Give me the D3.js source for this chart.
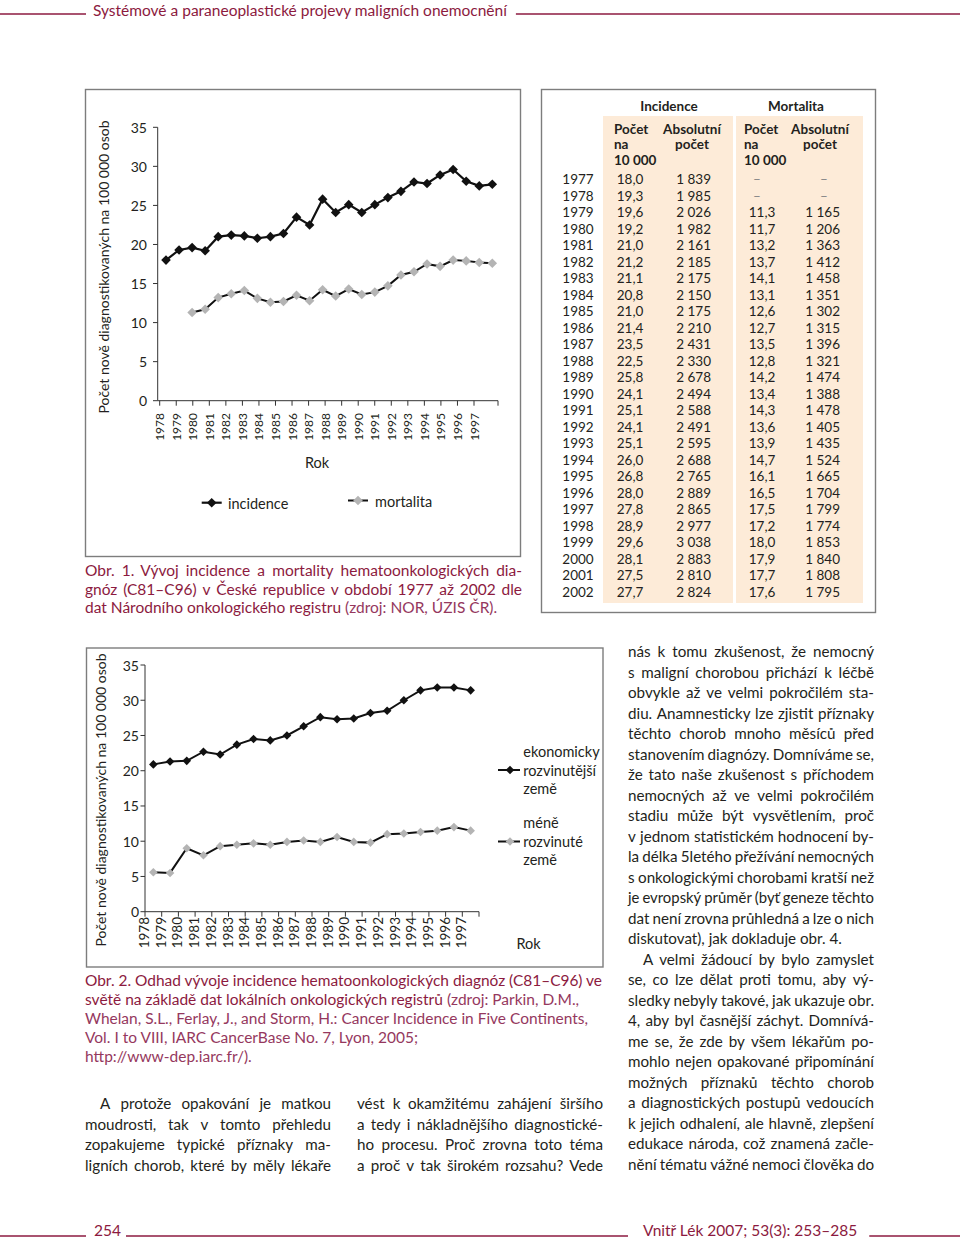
<!DOCTYPE html>
<html><head><meta charset="utf-8">
<script src="https://cdn.jsdelivr.net/npm/d3@7"></script>
<style>
body{margin:0;background:#fff}
svg{display:block}
text{font-family:Lato,"Open Sans",sans-serif}
</style>
</head><body>
<svg id="page" width="960" height="1241"></svg>
<script>
// ---------------- DATA ----------------
const tableYears = [1977,1978,1979,1980,1981,1982,1983,1984,1985,1986,1987,1988,1989,1990,1991,1992,1993,1994,1995,1996,1997,1998,1999,2000,2001,2002];
const incidenceRate = [18.0,19.3,19.6,19.2,21.0,21.2,21.1,20.8,21.0,21.4,23.5,22.5,25.8,24.1,25.1,24.1,25.1,26.0,26.8,28.0,27.8,28.9,29.6,28.1,27.5,27.7];
const incidenceAbs = [1839,1985,2026,1982,2161,2185,2175,2150,2175,2210,2431,2330,2678,2494,2588,2491,2595,2688,2765,2889,2865,2977,3038,2883,2810,2824];
const mortalityRate = [null,null,11.3,11.7,13.2,13.7,14.1,13.1,12.6,12.7,13.5,12.8,14.2,13.4,14.3,13.6,13.9,14.7,16.1,16.5,17.5,17.2,18.0,17.9,17.7,17.6];
const mortalityAbs = [null,null,1165,1206,1363,1412,1458,1351,1302,1315,1396,1321,1474,1388,1478,1405,1435,1524,1665,1704,1799,1774,1853,1840,1808,1795];
const chart1TickLabels = ["1978","1979","1980","1981","1982","1983","1984","1985","1986","1987","1988","1989","1990","1991","1992","1993","1994","1995","1996","1997"];
const yTicks = [0,5,10,15,20,25,30,35];

const chart2Years = ["1978","1979","1980","1981","1982","1983","1984","1985","1986","1987","1988","1989","1990","1991","1992","1993","1994","1995","1996","1997"];
const developed = [20.9,21.3,21.4,22.7,22.3,23.7,24.5,24.3,25.0,26.3,27.6,27.3,27.4,28.2,28.5,30.0,31.4,31.8,31.8,31.4];
const lessDeveloped = [5.6,5.5,9.0,8.0,9.3,9.5,9.7,9.5,9.9,10.1,9.9,10.6,9.9,9.8,11.0,11.1,11.3,11.5,12.0,11.5];

// ---------------- STYLE ----------------
const MAROON = '#8c1a40', MAROON2 = '#95385e', TXT = '#231f20', BOX = '#7d7d7d', GRAYMK = '#b4b4b4';
const svg = d3.select('#page');

function txt(g, x, y, str, o = {}) {
  return g.append('text').attr('x', x).attr('y', y)
    .attr('font-size', o.size || 14).attr('fill', o.fill || TXT)
    .attr('text-anchor', o.anchor || 'start')
    .attr('font-weight', o.weight || 400)
    .attr('dominant-baseline', o.base || 'auto')
    .text(str);
}
function justifyLine(g, str, x, y, w, size, fill) {
  const words = str.split(' ');
  const t = g.append('text').attr('y', y).attr('font-size', size).attr('fill', fill);
  const spans = words.map(wd => t.append('tspan').text(wd));
  const widths = spans.map(s => s.node().getComputedTextLength());
  const total = d3.sum(widths), gaps = words.length - 1;
  let gap = gaps ? (w - total) / gaps : 0, sc = 1;
  const minGap = size * 0.2;
  if (gaps && gap < minGap) { sc = w / (total + minGap * gaps); gap = minGap; }
  let cx = 0;
  spans.forEach((s, i) => { s.attr('x', cx); cx += widths[i] + gap; });
  t.attr('transform', `translate(${x},0) scale(${sc},1)`);
  return t;
}
function fitLine(g, str, x, y, w, size, fill) {
  // left aligned line, compressed only if too wide
  const t = txt(g, x, y, str, {size, fill});
  const L = t.node().getComputedTextLength();
  if (L > w) t.attr('textLength', w).attr('lengthAdjust', 'spacingAndGlyphs');
  return t;
}
const diamond = r => `M0,${-r}L${r},0L0,${r}L${-r},0Z`;

// ---------------- HEADER ----------------
const hdr = svg.append('g');
const ht = txt(hdr, 93, 16, 'Systémové a paraneoplastické projevy maligních onemocnění', {size: 15.5, fill: MAROON});
const hw = ht.node().getComputedTextLength();
hdr.append('line').attr('x1', 0).attr('x2', 86).attr('y1', 14).attr('y2', 14).attr('stroke', MAROON).attr('stroke-width', 1.3);
hdr.append('line').attr('x1', 93 + hw + 9).attr('x2', 960).attr('y1', 14).attr('y2', 14).attr('stroke', MAROON).attr('stroke-width', 1.3);

// ---------------- CHART 1 ----------------
const c1 = svg.append('g');
c1.append('rect').attr('x', 85.5).attr('y', 89.5).attr('width', 435).attr('height', 467)
  .attr('fill', 'none').attr('stroke', BOX).attr('stroke-width', 1.4);
const y1 = d3.scaleLinear().domain([0, 35]).range([400.7, 127.3]);
const x1 = d3.scalePoint().domain(tableYears).range([166, 492.3]);
const xl1 = d3.scalePoint().domain(chart1TickLabels).range([159.7, 474]);
// axes
c1.append('line').attr('x1', 157.7).attr('x2', 157.7).attr('y1', y1(35)).attr('y2', y1(0)).attr('stroke', '#333').attr('stroke-width', 1);
c1.append('line').attr('x1', 157.7).attr('x2', 498).attr('y1', y1(0)).attr('y2', y1(0)).attr('stroke', '#333').attr('stroke-width', 1);
yTicks.forEach(v => {
  c1.append('line').attr('x1', 153).attr('x2', 157.7).attr('y1', y1(v)).attr('y2', y1(v)).attr('stroke', '#333');
  txt(c1, 147, y1(v), String(v), {size: 14, anchor: 'end', base: 'central'});
});
chart1TickLabels.forEach(l => {
  c1.append('line').attr('x1', xl1(l)).attr('x2', xl1(l)).attr('y1', y1(0)).attr('y2', y1(0) + 5).attr('stroke', '#333');
  txt(c1, 0, 0, l, {size: 12, anchor: 'end', base: 'central'})
    .attr('transform', `translate(${xl1(l)},413) rotate(-90)`);
});
c1.append('line').attr('x1', 498).attr('x2', 498).attr('y1', y1(0)).attr('y2', y1(0) + 5).attr('stroke', '#333');
txt(c1, 0, 0, 'Počet nově diagnostikovaných na 100 000 osob', {size: 14, anchor: 'middle', base: 'central'})
  .attr('transform', 'translate(103,267) rotate(-90)');
txt(c1, 317, 462, 'Rok', {size: 14.5, anchor: 'middle', base: 'central'});
// series
const line1 = d3.line().defined(d => d.v != null).x(d => x1(d.y)).y(d => y1(d.v));
const incPts = tableYears.map((y, i) => ({y, v: incidenceRate[i]}));
const morPts = tableYears.map((y, i) => ({y, v: mortalityRate[i]})).filter(d => d.v != null);
c1.append('path').attr('d', line1(morPts)).attr('fill', 'none').attr('stroke', '#111').attr('stroke-width', 2);
c1.append('path').attr('d', line1(incPts)).attr('fill', 'none').attr('stroke', '#111').attr('stroke-width', 2.2);
c1.selectAll('.mm').data(morPts).join('path').attr('d', diamond(4.8))
  .attr('transform', d => `translate(${x1(d.y)},${y1(d.v)})`).attr('fill', GRAYMK);
c1.selectAll('.im').data(incPts).join('path').attr('d', diamond(4.8))
  .attr('transform', d => `translate(${x1(d.y)},${y1(d.v)})`).attr('fill', '#111');
// legend
c1.append('line').attr('x1', 201.7).attr('x2', 221.7).attr('y1', 502.7).attr('y2', 502.7).attr('stroke', '#111').attr('stroke-width', 2.2);
c1.append('path').attr('d', diamond(4.8)).attr('transform', 'translate(211.7,502.7)').attr('fill', '#111');
txt(c1, 228, 503, 'incidence', {size: 14.5, base: 'central'});
c1.append('line').attr('x1', 348).attr('x2', 368).attr('y1', 500.5).attr('y2', 500.5).attr('stroke', '#111').attr('stroke-width', 2);
c1.append('path').attr('d', diamond(4.8)).attr('transform', 'translate(358,500.5)').attr('fill', GRAYMK);
txt(c1, 375, 501, 'mortalita', {size: 14.5, base: 'central'});

// caption 1
const cap1 = svg.append('g');
justifyLine(cap1, 'Obr. 1. Vývoj incidence a mortality hematoonkologických dia-', 85, 576, 437, 15.5, MAROON);
justifyLine(cap1, 'gnóz (C81–C96) v České republice v období 1977 až 2002 dle', 85, 594.5, 437, 15.5, MAROON);
{
  const t = cap1.append('text').attr('x', 85).attr('y', 613).attr('font-size', 15.5);
  t.append('tspan').attr('fill', MAROON).text('dat Národního onkologického registru ');
  t.append('tspan').attr('fill', MAROON2).text('(zdroj: NOR, ÚZIS ČR).');
}

// ---------------- TABLE ----------------
const tb = svg.append('g');
tb.append('rect').attr('x', 541.5).attr('y', 89.5).attr('width', 334).attr('height', 523)
  .attr('fill', 'none').attr('stroke', BOX).attr('stroke-width', 1.4);
tb.append('rect').attr('x', 603).attr('y', 116).attr('width', 130).attr('height', 487).attr('fill', '#fdebd8');
tb.append('rect').attr('x', 736).attr('y', 116).attr('width', 127).attr('height', 487).attr('fill', '#fdebd8');
txt(tb, 669, 106, 'Incidence', {size: 13.5, anchor: 'middle', base: 'central', weight: 700});
txt(tb, 796, 106, 'Mortalita', {size: 13.5, anchor: 'middle', base: 'central', weight: 700});
const subY = [128.5, 144, 159.5];
['Počet', 'na', '10 000'].forEach((s, i) => {
  txt(tb, 614, subY[i], s, {size: 13.5, base: 'central', weight: 700});
  txt(tb, 744, subY[i], s, {size: 13.5, base: 'central', weight: 700});
});
['Absolutní', 'počet'].forEach((s, i) => {
  txt(tb, 692, subY[i], s, {size: 13.5, anchor: 'middle', base: 'central', weight: 700});
  txt(tb, 820, subY[i], s, {size: 13.5, anchor: 'middle', base: 'central', weight: 700});
});
const rowY = d3.scalePoint().domain(tableYears).range([179, 592]);
const fmt1 = v => d3.format('.1f')(v).replace('.', ',');
const fmtAbs = d3.formatLocale({decimal: ',', thousands: ' ', grouping: [3], currency: ['', '']}).format(',d');
tableYears.forEach((yr, i) => {
  const yy = rowY(yr);
  txt(tb, 578, yy, String(yr), {size: 13.5, anchor: 'middle', base: 'central'});
  txt(tb, 630, yy, fmt1(incidenceRate[i]), {size: 13.5, anchor: 'middle', base: 'central'});
  txt(tb, 711, yy, fmtAbs(incidenceAbs[i]), {size: 13.5, anchor: 'end', base: 'central'});
  if (mortalityRate[i] == null) {
    txt(tb, 757, yy, '–', {size: 13.5, anchor: 'middle', base: 'central', fill: '#888'});
    txt(tb, 824, yy, '–', {size: 13.5, anchor: 'middle', base: 'central', fill: '#888'});
  } else {
    txt(tb, 762, yy, fmt1(mortalityRate[i]), {size: 13.5, anchor: 'middle', base: 'central'});
    txt(tb, 840, yy, fmtAbs(mortalityAbs[i]), {size: 13.5, anchor: 'end', base: 'central'});
  }
});

// ---------------- CHART 2 ----------------
const c2 = svg.append('g');
c2.append('rect').attr('x', 86.5).attr('y', 648).attr('width', 516.5).attr('height', 319)
  .attr('fill', 'none').attr('stroke', BOX).attr('stroke-width', 1.4);
const y2 = d3.scaleLinear().domain([0, 35]).range([911.7, 665]);
const x2 = d3.scaleBand().domain(chart2Years).range([145, 479]);
c2.append('line').attr('x1', 145).attr('x2', 145).attr('y1', y2(35)).attr('y2', y2(0)).attr('stroke', '#333');
c2.append('line').attr('x1', 145).attr('x2', 479).attr('y1', y2(0)).attr('y2', y2(0)).attr('stroke', '#333');
yTicks.forEach(v => {
  c2.append('line').attr('x1', 140.5).attr('x2', 145).attr('y1', y2(v)).attr('y2', y2(v)).attr('stroke', '#333');
  txt(c2, 139, y2(v), String(v), {size: 14, anchor: 'end', base: 'central'});
});
chart2Years.forEach(l => {
  c2.append('line').attr('x1', x2(l)).attr('x2', x2(l)).attr('y1', y2(0)).attr('y2', y2(0) + 5).attr('stroke', '#333');
  txt(c2, 0, 0, l, {size: 13.5, anchor: 'end', base: 'central'})
    .attr('transform', `translate(${x2(l) - 1},917) rotate(-90)`);
});
c2.append('line').attr('x1', 479).attr('x2', 479).attr('y1', y2(0)).attr('y2', y2(0) + 5).attr('stroke', '#333');
txt(c2, 0, 0, 'Počet nově diagnostikovaných na 100 000 osob', {size: 14, anchor: 'middle', base: 'central'})
  .attr('transform', 'translate(100,800) rotate(-90)');
txt(c2, 516.5, 943, 'Rok', {size: 14.5, base: 'central'});
const line2 = d3.line().x(d => x2(d.y) + x2.bandwidth() / 2).y(d => y2(d.v));
const devPts = chart2Years.map((y, i) => ({y, v: developed[i]}));
const lessPts = chart2Years.map((y, i) => ({y, v: lessDeveloped[i]}));
c2.append('path').attr('d', line2(lessPts)).attr('fill', 'none').attr('stroke', '#111').attr('stroke-width', 2);
c2.append('path').attr('d', line2(devPts)).attr('fill', 'none').attr('stroke', '#111').attr('stroke-width', 2);
c2.selectAll('.lm').data(lessPts).join('path').attr('d', diamond(4.3))
  .attr('transform', d => `translate(${x2(d.y) + x2.bandwidth() / 2},${y2(d.v)})`).attr('fill', GRAYMK);
c2.selectAll('.dm').data(devPts).join('path').attr('d', diamond(4.3))
  .attr('transform', d => `translate(${x2(d.y) + x2.bandwidth() / 2},${y2(d.v)})`).attr('fill', '#111');
// legend 2
c2.append('line').attr('x1', 498).attr('x2', 520).attr('y1', 770).attr('y2', 770).attr('stroke', '#111').attr('stroke-width', 2);
c2.append('path').attr('d', diamond(4.3)).attr('transform', 'translate(510,770)').attr('fill', '#111');
[['ekonomicky', 751.7], ['rozvinutější', 770], ['země', 788.3]].forEach(([s, yy]) => txt(c2, 523.3, yy, s, {size: 14.5, base: 'central'}));
c2.append('line').attr('x1', 498).attr('x2', 520).attr('y1', 841.5).attr('y2', 841.5).attr('stroke', '#111').attr('stroke-width', 2);
c2.append('path').attr('d', diamond(4.3)).attr('transform', 'translate(510,841.5)').attr('fill', GRAYMK);
[['méně', 822.7], ['rozvinuté', 841.2], ['země', 859.5]].forEach(([s, yy]) => txt(c2, 523.3, yy, s, {size: 14.5, base: 'central'}));

// caption 2
const cap2 = svg.append('g');
fitLine(cap2, 'Obr. 2. Odhad vývoje incidence hematoonkologických diagnóz (C81–C96) ve', 85, 986, 517, 15.5, MAROON);
{
  const t = cap2.append('text').attr('x', 85).attr('y', 1005).attr('font-size', 15.5);
  t.append('tspan').attr('fill', MAROON).text('světě na základě dat lokálních onkologických registrů ');
  t.append('tspan').attr('fill', MAROON2).text('(zdroj: Parkin, D.M.,');
  if (t.node().getComputedTextLength() > 497) t.attr('textLength', 497).attr('lengthAdjust', 'spacingAndGlyphs');
}
fitLine(cap2, 'Whelan, S.L., Ferlay, J., and Storm, H.: Cancer Incidence in Five Continents,', 85, 1024, 503, 15.5, MAROON2);
fitLine(cap2, 'Vol. I to VIII, IARC CancerBase No. 7, Lyon, 2005;', 85, 1043, 333, 15.5, MAROON2);
fitLine(cap2, 'http://www-dep.iarc.fr/).', 85, 1061.5, 170, 15.5, MAROON2);

// ---------------- BODY TEXT ----------------
const body = svg.append('g');
const BS = 15.2, LH = 20.52;
const rightLines = [
  ['nás k tomu zkušenost, že nemocný', 'j'],
  ['s maligní chorobou přichází k léčbě', 'j'],
  ['obvykle až ve velmi pokročilém sta-', 'j'],
  ['diu. Anamnesticky lze zjistit příznaky', 'j'],
  ['těchto chorob mnoho měsíců před', 'j'],
  ['stanovením diagnózy. Domníváme se,', 'j'],
  ['že tato naše zkušenost s příchodem', 'j'],
  ['nemocných až ve velmi pokročilém', 'j'],
  ['stadiu může být vysvětlením, proč', 'j'],
  ['v jednom statistickém hodnocení by-', 'j'],
  ['la délka 5letého přežívání nemocných', 'j'],
  ['s onkologickými chorobami kratší než', 'j'],
  ['je evropský průměr (byť geneze těchto', 'j'],
  ['dat není zrovna průhledná a lze o nich', 'j'],
  ['diskutovat), jak dokladuje obr. 4.', 'l'],
  ['A velmi žádoucí by bylo zamyslet', 'i'],
  ['se, co lze dělat proti tomu, aby vý-', 'j'],
  ['sledky nebyly takové, jak ukazuje obr.', 'j'],
  ['4, aby byl časnější záchyt. Domnívá-', 'j'],
  ['me se, že zde by všem lékařům po-', 'j'],
  ['mohlo nejen opakované připomínání', 'j'],
  ['možných příznaků těchto chorob', 'j'],
  ['a diagnostických postupů vedoucích', 'j'],
  ['k jejich odhalení, ale hlavně, zlepšení', 'j'],
  ['edukace národa, což znamená začle-', 'j'],
  ['nění tématu vážné nemoci člověka do', 'j']
];
rightLines.forEach(([s, m], i) => {
  const yy = 657 + LH * i;
  if (m === 'l') fitLine(body, s, 628, yy, 246, BS, TXT);
  else if (m === 'i') justifyLine(body, s, 643, yy, 231, BS, TXT);
  else justifyLine(body, s, 628, yy, 246, BS, TXT);
});
const col1 = ['A protože opakování je matkou', 'moudrosti, tak v tomto přehledu', 'zopakujeme typické příznaky ma-', 'ligních chorob, které by měly lékaře'];
const col2 = ['vést k okamžitému zahájení širšího', 'a tedy i nákladnějšího diagnostické-', 'ho procesu. Proč zrovna toto téma', 'a proč v tak širokém rozsahu? Vede'];
col1.forEach((s, i) => {
  const yy = 1109 + LH * i;
  if (i === 0) justifyLine(body, s, 100, yy, 231, BS, TXT);
  else justifyLine(body, s, 85, yy, 246, BS, TXT);
});
col2.forEach((s, i) => justifyLine(body, s, 357, 1109 + LH * i, 246, BS, TXT));

// ---------------- FOOTER ----------------
const ft = svg.append('g');
txt(ft, 94, 1236, '254', {size: 15.5, fill: MAROON});
ft.append('line').attr('x1', 0).attr('x2', 86).attr('y1', 1236).attr('y2', 1236).attr('stroke', MAROON).attr('stroke-width', 1.3);
ft.append('line').attr('x1', 126).attr('x2', 628).attr('y1', 1236).attr('y2', 1236).attr('stroke', MAROON).attr('stroke-width', 1.3);
const fr = txt(ft, 643, 1236, 'Vnitř Lék 2007; 53(3): 253–285', {size: 15.5, fill: MAROON});
const fw = fr.node().getComputedTextLength();
ft.append('line').attr('x1', 643 + fw + 12).attr('x2', 960).attr('y1', 1236).attr('y2', 1236).attr('stroke', MAROON).attr('stroke-width', 1.3);
</script>
</body></html>
